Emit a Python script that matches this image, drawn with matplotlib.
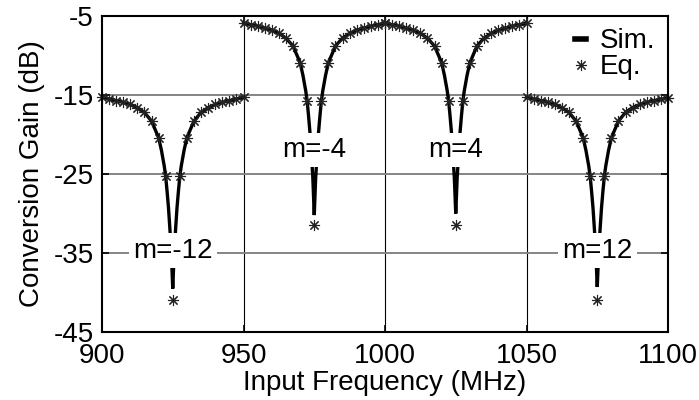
import matplotlib
matplotlib.use('Agg')
import matplotlib.pyplot as plt

plt.rcParams['font.family'] = ['Liberation Sans', 'DejaVu Sans']
plt.rcParams['font.size'] = 20
plt.rcParams['axes.unicode_minus'] = False

# ---------------- data ----------------
# Simulated curves ("Sim."), one list per harmonic segment
sim_f_m12n = [900, 905, 910, 912.5, 915, 917.5, 920, 921, 922, 922.5, 923, 923.5, 924, 924.5, 925,
              925.5, 926, 926.5, 927, 927.5, 928, 929, 930, 932.5, 935, 937.5, 940, 945, 950]
sim_g_m12n = [-15.3, -15.7, -16.2, -16.6, -17.2, -18.3, -20.4, -22.0, -24.0, -25.3, -27.2, -29.3, -32.0, -35.0, -39.5,
              -35.0, -32.0, -29.3, -27.2, -25.3, -24.0, -22.0, -20.4, -18.3, -17.2, -16.6, -16.2, -15.7, -15.3]

sim_f_m4n = [950, 955, 960, 962.5, 965, 967.5, 970, 971, 972, 972.5, 973, 973.5, 974, 974.5, 975,
             975.5, 976, 976.5, 977, 977.5, 978, 979, 980, 982.5, 985, 987.5, 990, 995, 1000]
sim_g_m4n = [-5.9, -6.3, -6.8, -7.2, -7.8, -8.8, -10.9, -12.5, -14.5, -15.8, -17.7, -19.8, -22.5, -25.5, -30.2,
             -25.5, -22.5, -19.8, -17.7, -15.8, -14.5, -12.5, -10.9, -8.8, -7.8, -7.2, -6.8, -6.3, -5.9]

sim_f_m4p = [1000, 1005, 1010, 1012.5, 1015, 1017.5, 1020, 1021, 1022, 1022.5, 1023, 1023.5, 1024, 1024.5, 1025,
             1025.5, 1026, 1026.5, 1027, 1027.5, 1028, 1029, 1030, 1032.5, 1035, 1037.5, 1040, 1045, 1050]
sim_g_m4p = [-5.9, -6.3, -6.8, -7.2, -7.8, -8.8, -10.9, -12.5, -14.5, -15.8, -17.7, -19.8, -22.5, -25.5, -30.0,
             -25.5, -22.5, -19.8, -17.7, -15.8, -14.5, -12.5, -10.9, -8.8, -7.8, -7.2, -6.8, -6.3, -5.9]

sim_f_m12p = [1050, 1055, 1060, 1062.5, 1065, 1067.5, 1070, 1071, 1072, 1072.5, 1073, 1073.5, 1074, 1074.5, 1075,
              1075.5, 1076, 1076.5, 1077, 1077.5, 1078, 1079, 1080, 1082.5, 1085, 1087.5, 1090, 1095, 1100]
sim_g_m12p = [-15.3, -15.7, -16.2, -16.6, -17.2, -18.3, -20.4, -22.0, -24.0, -25.3, -27.2, -29.3, -32.0, -35.0, -39.3,
              -35.0, -32.0, -29.3, -27.2, -25.3, -24.0, -22.0, -20.4, -18.3, -17.2, -16.6, -16.2, -15.7, -15.4]

# Equation points ("Eq."), 2.5 MHz spacing
eq_f_m12n = [900, 902.5, 905, 907.5, 910, 912.5, 915, 917.5, 920, 922.5, 925,
             927.5, 930, 932.5, 935, 937.5, 940, 942.5, 945, 947.5, 950]
eq_g_m12n = [-15.3, -15.5, -15.7, -15.9, -16.2, -16.6, -17.2, -18.3, -20.4, -25.3, -41.0,
             -25.3, -20.4, -18.3, -17.2, -16.6, -16.2, -15.9, -15.7, -15.5, -15.3]

eq_f_m4n = [950, 952.5, 955, 957.5, 960, 962.5, 965, 967.5, 970, 972.5, 975,
            977.5, 980, 982.5, 985, 987.5, 990, 992.5, 995, 997.5, 1000]
eq_g_m4n = [-5.9, -6.1, -6.3, -6.5, -6.8, -7.2, -7.8, -8.8, -10.9, -15.8, -31.5,
            -15.8, -10.9, -8.8, -7.8, -7.2, -6.8, -6.5, -6.3, -6.1, -5.9]

eq_f_m4p = [1000, 1002.5, 1005, 1007.5, 1010, 1012.5, 1015, 1017.5, 1020, 1022.5, 1025,
            1027.5, 1030, 1032.5, 1035, 1037.5, 1040, 1042.5, 1045, 1047.5, 1050]
eq_g_m4p = [-5.9, -6.1, -6.3, -6.5, -6.8, -7.2, -7.8, -8.8, -10.9, -15.8, -31.5,
            -15.8, -10.9, -8.8, -7.8, -7.2, -6.8, -6.5, -6.3, -6.1, -5.9]

eq_f_m12p = [1050, 1052.5, 1055, 1057.5, 1060, 1062.5, 1065, 1067.5, 1070, 1072.5, 1075,
             1077.5, 1080, 1082.5, 1085, 1087.5, 1090, 1092.5, 1095, 1097.5, 1100]
eq_g_m12p = [-15.3, -15.5, -15.7, -15.9, -16.2, -16.6, -17.2, -18.3, -20.4, -25.3, -41.0,
             -25.3, -20.4, -18.3, -17.2, -16.6, -16.2, -15.9, -15.7, -15.5, -15.4]

label_texts = ['m=-12', 'm=-4', 'm=4', 'm=12']
label_f = [925, 975, 1025, 1075]
label_g = [-34.7, -22.0, -22.0, -34.7]

x_ticks = [900, 950, 1000, 1050, 1100]
y_ticks = [-45, -35, -25, -15, -5]

# ---------------- figure ----------------
fig = plt.figure(figsize=(6.99, 4.0), dpi=100)
ax = fig.add_axes([102 / 699, 1 - 332 / 400, 566 / 699, 316 / 400])
ax.set_xlim(900, 1100)
ax.set_ylim(-45, -5)
ax.set_xticks(x_ticks)
ax.set_yticks(y_ticks)

# grid: vertical black, horizontal gray
for xv in x_ticks[1:-1]:
    ax.axvline(xv, color='black', lw=0.8, zorder=1)
for yv in y_ticks[1:-1]:
    ax.axhline(yv, color='#858585', lw=1.4, zorder=1)

sims = [(sim_f_m12n, sim_g_m12n), (sim_f_m4n, sim_g_m4n), (sim_f_m4p, sim_g_m4p), (sim_f_m12p, sim_g_m12p)]
eqs = [(eq_f_m12n, eq_g_m12n), (eq_f_m4n, eq_g_m4n), (eq_f_m4p, eq_g_m4p), (eq_f_m12p, eq_g_m12p)]

h_sim = None
h_eq = None
for (f, g) in sims:
    h_sim, = ax.plot(f, g, color='black', lw=2.4, zorder=3, solid_joinstyle='miter')
for (f, g) in eqs:
    h_eq, = ax.plot(f, g, ls='none', marker=(8, 2, 0), ms=8, mew=0.8,
                    color='#222222', zorder=4, clip_on=False)

for t, xf, yg in zip(label_texts, label_f, label_g):
    ax.text(xf, yg, t, ha='center', va='center', fontsize=20, zorder=6,
            bbox=dict(boxstyle='square,pad=0.15', facecolor='white', edgecolor='none'))

leg = ax.legend([h_sim, h_eq], ['Sim.', 'Eq.'], loc='upper right', frameon=False,
                handlelength=0.4, handletextpad=0.5, labelspacing=0.0,
                borderaxespad=0.2, borderpad=0.25, fontsize=20)
leg.get_lines()[0].set_linewidth(4)
leg.set_zorder(7)

ax.tick_params(direction='in', length=5, width=1.2, top=True, right=True,
               labelsize=20, pad=6, colors='black')
ax.tick_params(axis='x', pad=8)
for s in ax.spines.values():
    s.set_linewidth(1.5)
    s.set_zorder(5)

ax.set_xlabel('Input Frequency (MHz)', fontsize=20, labelpad=1)
ax.set_ylabel('Conversion Gain (dB)', fontsize=20, labelpad=6)

fig.savefig('out.png', dpi=100)
